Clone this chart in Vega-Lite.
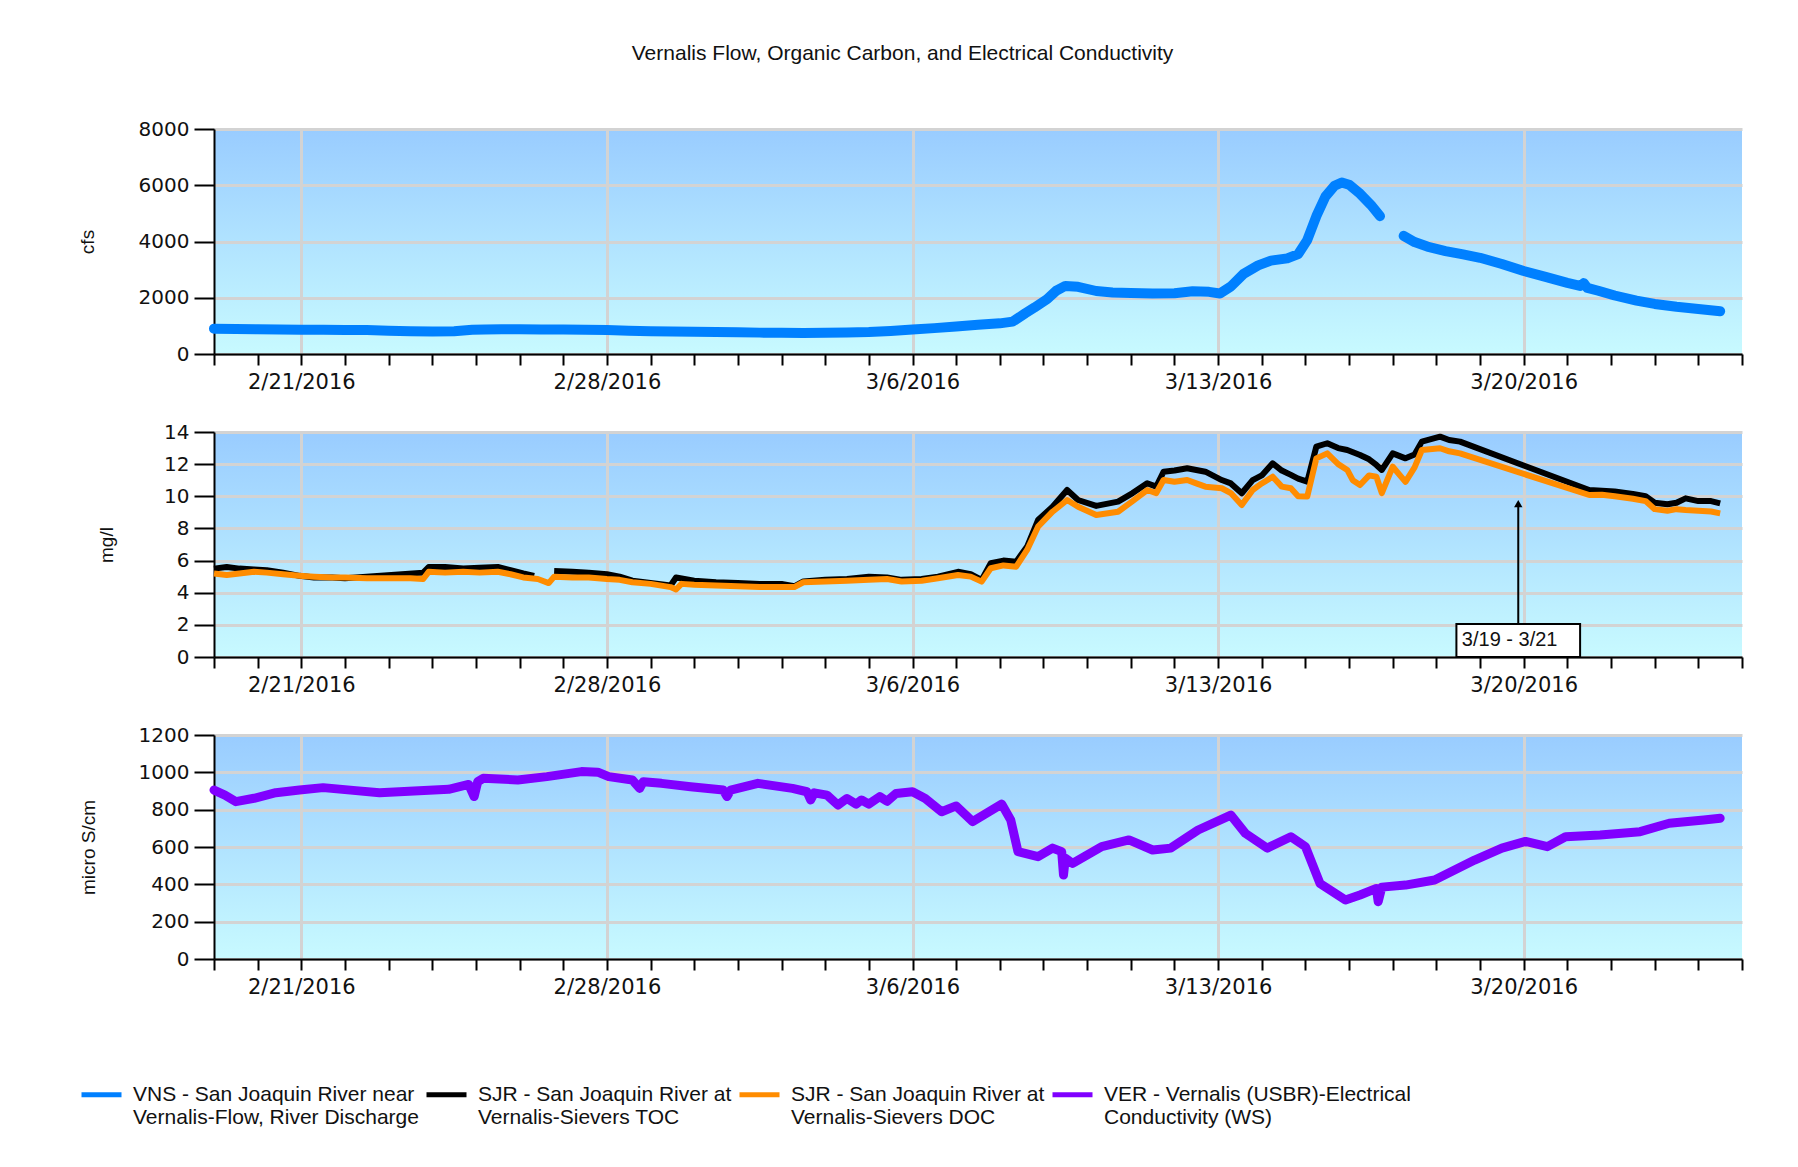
{
  "$schema": "https://vega.github.io/schema/vega-lite/v6.json",
  "background": "white",
  "padding": {"left": 78, "top": 43, "right": 40, "bottom": 20},
  "title": {"text": "Vernalis Flow, Organic Carbon, and Electrical Conductivity", "anchor": "middle", "font": "Liberation Sans", "fontSize": 21, "fontWeight": "normal", "color": "#111111", "offset": 55, "dx": -8},
  "spacing": 30,
  "datasets": {
    "flow": [
      {"t":"2016-02-19T00:00","s":"VNS Flow","v":900},{"t":"2016-02-19T12:00","s":"VNS Flow","v":890},{"t":"2016-02-20T00:00","s":"VNS Flow","v":880},{"t":"2016-02-20T12:00","s":"VNS Flow","v":870},
      {"t":"2016-02-21T00:00","s":"VNS Flow","v":860},{"t":"2016-02-21T12:00","s":"VNS Flow","v":860},{"t":"2016-02-22T00:00","s":"VNS Flow","v":855},{"t":"2016-02-22T12:00","s":"VNS Flow","v":850},
      {"t":"2016-02-23T00:00","s":"VNS Flow","v":830},{"t":"2016-02-23T12:00","s":"VNS Flow","v":810},{"t":"2016-02-24T00:00","s":"VNS Flow","v":800},{"t":"2016-02-24T12:00","s":"VNS Flow","v":810},
      {"t":"2016-02-24T22:00","s":"VNS Flow","v":860},{"t":"2016-02-25T05:00","s":"VNS Flow","v":875},{"t":"2016-02-25T14:00","s":"VNS Flow","v":880},{"t":"2016-02-26T00:00","s":"VNS Flow","v":880},
      {"t":"2016-02-26T12:00","s":"VNS Flow","v":870},{"t":"2016-02-27T00:00","s":"VNS Flow","v":870},{"t":"2016-02-27T12:00","s":"VNS Flow","v":860},{"t":"2016-02-28T00:00","s":"VNS Flow","v":850},
      {"t":"2016-02-28T12:00","s":"VNS Flow","v":830},{"t":"2016-02-29T00:00","s":"VNS Flow","v":810},{"t":"2016-02-29T12:00","s":"VNS Flow","v":800},{"t":"2016-03-01T00:00","s":"VNS Flow","v":790},
      {"t":"2016-03-01T12:00","s":"VNS Flow","v":780},{"t":"2016-03-02T00:00","s":"VNS Flow","v":770},{"t":"2016-03-02T12:00","s":"VNS Flow","v":760},{"t":"2016-03-03T00:00","s":"VNS Flow","v":755},
      {"t":"2016-03-03T12:00","s":"VNS Flow","v":750},{"t":"2016-03-04T00:00","s":"VNS Flow","v":755},{"t":"2016-03-04T12:00","s":"VNS Flow","v":765},{"t":"2016-03-05T00:00","s":"VNS Flow","v":780},
      {"t":"2016-03-05T12:00","s":"VNS Flow","v":820},{"t":"2016-03-06T00:00","s":"VNS Flow","v":870},{"t":"2016-03-06T12:00","s":"VNS Flow","v":920},{"t":"2016-03-07T00:00","s":"VNS Flow","v":980},
      {"t":"2016-03-07T12:00","s":"VNS Flow","v":1040},{"t":"2016-03-08T00:00","s":"VNS Flow","v":1090},{"t":"2016-03-08T07:00","s":"VNS Flow","v":1150},{"t":"2016-03-08T14:00","s":"VNS Flow","v":1450},
      {"t":"2016-03-08T19:00","s":"VNS Flow","v":1650},{"t":"2016-03-09T02:00","s":"VNS Flow","v":1950},{"t":"2016-03-09T07:00","s":"VNS Flow","v":2250},{"t":"2016-03-09T12:00","s":"VNS Flow","v":2420},
      {"t":"2016-03-09T19:00","s":"VNS Flow","v":2390},{"t":"2016-03-10T05:00","s":"VNS Flow","v":2240},{"t":"2016-03-10T14:00","s":"VNS Flow","v":2190},{"t":"2016-03-11T00:00","s":"VNS Flow","v":2170},
      {"t":"2016-03-11T12:00","s":"VNS Flow","v":2150},{"t":"2016-03-12T00:00","s":"VNS Flow","v":2160},{"t":"2016-03-12T10:00","s":"VNS Flow","v":2230},{"t":"2016-03-12T19:00","s":"VNS Flow","v":2210},
      {"t":"2016-03-13T01:00","s":"VNS Flow","v":2150},{"t":"2016-03-13T07:00","s":"VNS Flow","v":2400},{"t":"2016-03-13T14:00","s":"VNS Flow","v":2850},{"t":"2016-03-13T22:00","s":"VNS Flow","v":3150},
      {"t":"2016-03-14T05:00","s":"VNS Flow","v":3320},{"t":"2016-03-14T14:00","s":"VNS Flow","v":3400},{"t":"2016-03-14T20:00","s":"VNS Flow","v":3550},{"t":"2016-03-15T01:00","s":"VNS Flow","v":4050},
      {"t":"2016-03-15T06:00","s":"VNS Flow","v":4900},{"t":"2016-03-15T11:00","s":"VNS Flow","v":5600},{"t":"2016-03-15T16:00","s":"VNS Flow","v":5980},{"t":"2016-03-15T20:00","s":"VNS Flow","v":6100},
      {"t":"2016-03-16T00:00","s":"VNS Flow","v":6020},{"t":"2016-03-16T06:00","s":"VNS Flow","v":5700},{"t":"2016-03-16T12:00","s":"VNS Flow","v":5300},{"t":"2016-03-16T17:00","s":"VNS Flow","v":4900},
      {"t":"2016-03-17T00:00","s":"VNS Flow","v":null},
      {"t":"2016-03-17T06:00","s":"VNS Flow","v":4200},{"t":"2016-03-17T12:00","s":"VNS Flow","v":3980},{"t":"2016-03-17T19:00","s":"VNS Flow","v":3820},{"t":"2016-03-18T05:00","s":"VNS Flow","v":3660},
      {"t":"2016-03-18T14:00","s":"VNS Flow","v":3550},{"t":"2016-03-19T00:00","s":"VNS Flow","v":3420},{"t":"2016-03-19T12:00","s":"VNS Flow","v":3200},{"t":"2016-03-20T00:00","s":"VNS Flow","v":2950},
      {"t":"2016-03-20T12:00","s":"VNS Flow","v":2740},{"t":"2016-03-21T00:00","s":"VNS Flow","v":2530},{"t":"2016-03-21T07:00","s":"VNS Flow","v":2420},{"t":"2016-03-21T09:00","s":"VNS Flow","v":2520},
      {"t":"2016-03-21T11:00","s":"VNS Flow","v":2350},{"t":"2016-03-21T17:00","s":"VNS Flow","v":2250},{"t":"2016-03-22T02:00","s":"VNS Flow","v":2080},{"t":"2016-03-22T14:00","s":"VNS Flow","v":1900},
      {"t":"2016-03-23T00:00","s":"VNS Flow","v":1780},{"t":"2016-03-23T12:00","s":"VNS Flow","v":1680},{"t":"2016-03-24T00:00","s":"VNS Flow","v":1600},{"t":"2016-03-24T12:00","s":"VNS Flow","v":1520}
    ],
    "carbon": [
      {"t":"2016-02-19T00:00","s":"SJR TOC","v":5.5},{"t":"2016-02-19T07:00","s":"SJR TOC","v":5.6},{"t":"2016-02-19T14:00","s":"SJR TOC","v":5.5},{"t":"2016-02-19T22:00","s":"SJR TOC","v":5.45},
      {"t":"2016-02-20T05:00","s":"SJR TOC","v":5.4},{"t":"2016-02-20T14:00","s":"SJR TOC","v":5.25},{"t":"2016-02-20T23:00","s":"SJR TOC","v":5.05},{"t":"2016-02-21T07:00","s":"SJR TOC","v":4.95},
      {"t":"2016-02-21T17:00","s":"SJR TOC","v":4.95},{"t":"2016-02-22T00:00","s":"SJR TOC","v":4.9},{"t":"2016-02-22T06:00","s":"SJR TOC","v":4.95},{"t":"2016-02-23T19:00","s":"SJR TOC","v":5.25},
      {"t":"2016-02-23T22:00","s":"SJR TOC","v":5.6},{"t":"2016-02-24T07:00","s":"SJR TOC","v":5.6},{"t":"2016-02-24T17:00","s":"SJR TOC","v":5.5},{"t":"2016-02-25T02:00","s":"SJR TOC","v":5.55},
      {"t":"2016-02-25T12:00","s":"SJR TOC","v":5.6},{"t":"2016-02-25T19:00","s":"SJR TOC","v":5.4},{"t":"2016-02-26T02:00","s":"SJR TOC","v":5.2},{"t":"2016-02-26T08:00","s":"SJR TOC","v":5.05},
      {"t":"2016-02-26T14:00","s":"SJR TOC","v":null},
      {"t":"2016-02-26T19:00","s":"SJR TOC","v":5.35},{"t":"2016-02-27T05:00","s":"SJR TOC","v":5.3},{"t":"2016-02-27T14:00","s":"SJR TOC","v":5.25},{"t":"2016-02-28T00:00","s":"SJR TOC","v":5.15},
      {"t":"2016-02-28T07:00","s":"SJR TOC","v":5.0},{"t":"2016-02-28T14:00","s":"SJR TOC","v":4.75},{"t":"2016-02-29T00:00","s":"SJR TOC","v":4.6},{"t":"2016-02-29T11:00","s":"SJR TOC","v":4.45},
      {"t":"2016-02-29T14:00","s":"SJR TOC","v":4.95},{"t":"2016-03-01T00:00","s":"SJR TOC","v":4.75},{"t":"2016-03-01T12:00","s":"SJR TOC","v":4.65},{"t":"2016-03-02T00:00","s":"SJR TOC","v":4.6},
      {"t":"2016-03-02T12:00","s":"SJR TOC","v":4.55},{"t":"2016-03-03T00:00","s":"SJR TOC","v":4.55},{"t":"2016-03-03T07:00","s":"SJR TOC","v":4.4},{"t":"2016-03-03T12:00","s":"SJR TOC","v":4.7},
      {"t":"2016-03-04T00:00","s":"SJR TOC","v":4.8},{"t":"2016-03-04T12:00","s":"SJR TOC","v":4.85},{"t":"2016-03-05T00:00","s":"SJR TOC","v":5.0},{"t":"2016-03-05T10:00","s":"SJR TOC","v":4.95},
      {"t":"2016-03-05T18:00","s":"SJR TOC","v":4.8},{"t":"2016-03-06T05:00","s":"SJR TOC","v":4.85},{"t":"2016-03-06T14:00","s":"SJR TOC","v":5.0},{"t":"2016-03-07T01:00","s":"SJR TOC","v":5.3},
      {"t":"2016-03-07T08:00","s":"SJR TOC","v":5.15},{"t":"2016-03-07T14:00","s":"SJR TOC","v":4.8},{"t":"2016-03-07T19:00","s":"SJR TOC","v":5.83},{"t":"2016-03-08T02:00","s":"SJR TOC","v":6.0},
      {"t":"2016-03-08T09:00","s":"SJR TOC","v":5.93},{"t":"2016-03-08T15:00","s":"SJR TOC","v":6.87},{"t":"2016-03-08T21:00","s":"SJR TOC","v":8.52},{"t":"2016-03-09T05:00","s":"SJR TOC","v":9.35},
      {"t":"2016-03-09T13:00","s":"SJR TOC","v":10.39},{"t":"2016-03-09T19:00","s":"SJR TOC","v":9.77},{"t":"2016-03-10T05:00","s":"SJR TOC","v":9.4},{"t":"2016-03-10T17:00","s":"SJR TOC","v":9.67},
      {"t":"2016-03-11T01:00","s":"SJR TOC","v":10.2},{"t":"2016-03-11T09:00","s":"SJR TOC","v":10.81},{"t":"2016-03-11T14:00","s":"SJR TOC","v":10.6},{"t":"2016-03-11T18:00","s":"SJR TOC","v":11.53},
      {"t":"2016-03-12T00:00","s":"SJR TOC","v":11.6},{"t":"2016-03-12T07:00","s":"SJR TOC","v":11.74},{"t":"2016-03-12T17:00","s":"SJR TOC","v":11.53},{"t":"2016-03-13T02:00","s":"SJR TOC","v":11.01},
      {"t":"2016-03-13T07:00","s":"SJR TOC","v":10.8},{"t":"2016-03-13T13:00","s":"SJR TOC","v":10.19},{"t":"2016-03-13T19:00","s":"SJR TOC","v":11.01},{"t":"2016-03-14T00:00","s":"SJR TOC","v":11.3},
      {"t":"2016-03-14T06:00","s":"SJR TOC","v":12.05},{"t":"2016-03-14T11:00","s":"SJR TOC","v":11.6},{"t":"2016-03-14T16:00","s":"SJR TOC","v":11.33},{"t":"2016-03-14T20:00","s":"SJR TOC","v":11.1},
      {"t":"2016-03-15T01:00","s":"SJR TOC","v":10.91},{"t":"2016-03-15T06:00","s":"SJR TOC","v":13.09},{"t":"2016-03-15T12:00","s":"SJR TOC","v":13.3},{"t":"2016-03-15T18:00","s":"SJR TOC","v":13.0},
      {"t":"2016-03-15T23:00","s":"SJR TOC","v":12.88},{"t":"2016-03-16T06:00","s":"SJR TOC","v":12.57},{"t":"2016-03-16T11:00","s":"SJR TOC","v":12.3},{"t":"2016-03-16T15:00","s":"SJR TOC","v":11.95},
      {"t":"2016-03-16T18:00","s":"SJR TOC","v":11.64},{"t":"2016-03-17T00:00","s":"SJR TOC","v":12.67},{"t":"2016-03-17T07:00","s":"SJR TOC","v":12.36},{"t":"2016-03-17T12:00","s":"SJR TOC","v":12.6},
      {"t":"2016-03-17T16:00","s":"SJR TOC","v":13.4},{"t":"2016-03-18T02:00","s":"SJR TOC","v":13.71},{"t":"2016-03-18T07:00","s":"SJR TOC","v":13.5},{"t":"2016-03-18T13:00","s":"SJR TOC","v":13.4},
      {"t":"2016-03-21T12:00","s":"SJR TOC","v":10.39},{"t":"2016-03-21T19:00","s":"SJR TOC","v":10.35},{"t":"2016-03-22T02:00","s":"SJR TOC","v":10.3},{"t":"2016-03-22T12:00","s":"SJR TOC","v":10.15},
      {"t":"2016-03-22T19:00","s":"SJR TOC","v":10.0},{"t":"2016-03-23T00:00","s":"SJR TOC","v":9.6},{"t":"2016-03-23T07:00","s":"SJR TOC","v":9.5},{"t":"2016-03-23T12:00","s":"SJR TOC","v":9.6},
      {"t":"2016-03-23T17:00","s":"SJR TOC","v":9.87},{"t":"2016-03-24T00:00","s":"SJR TOC","v":9.7},{"t":"2016-03-24T07:00","s":"SJR TOC","v":9.7},{"t":"2016-03-24T12:00","s":"SJR TOC","v":9.56},
      {"t":"2016-02-19T00:00","s":"SJR DOC","v":5.2},{"t":"2016-02-19T07:00","s":"SJR DOC","v":5.1},{"t":"2016-02-19T14:00","s":"SJR DOC","v":5.2},{"t":"2016-02-19T22:00","s":"SJR DOC","v":5.3},
      {"t":"2016-02-20T05:00","s":"SJR DOC","v":5.25},{"t":"2016-02-20T14:00","s":"SJR DOC","v":5.15},{"t":"2016-02-20T23:00","s":"SJR DOC","v":5.05},{"t":"2016-02-21T07:00","s":"SJR DOC","v":5.0},
      {"t":"2016-02-21T17:00","s":"SJR DOC","v":4.95},{"t":"2016-02-22T00:00","s":"SJR DOC","v":4.95},{"t":"2016-02-22T12:00","s":"SJR DOC","v":4.9},{"t":"2016-02-23T00:00","s":"SJR DOC","v":4.9},
      {"t":"2016-02-23T12:00","s":"SJR DOC","v":4.9},{"t":"2016-02-23T19:00","s":"SJR DOC","v":4.85},{"t":"2016-02-23T22:00","s":"SJR DOC","v":5.3},{"t":"2016-02-24T07:00","s":"SJR DOC","v":5.25},
      {"t":"2016-02-24T17:00","s":"SJR DOC","v":5.3},{"t":"2016-02-25T02:00","s":"SJR DOC","v":5.25},{"t":"2016-02-25T12:00","s":"SJR DOC","v":5.3},{"t":"2016-02-25T19:00","s":"SJR DOC","v":5.15},
      {"t":"2016-02-26T02:00","s":"SJR DOC","v":4.95},{"t":"2016-02-26T10:00","s":"SJR DOC","v":4.85},{"t":"2016-02-26T16:00","s":"SJR DOC","v":4.6},{"t":"2016-02-26T19:00","s":"SJR DOC","v":5.0},
      {"t":"2016-02-27T05:00","s":"SJR DOC","v":4.95},{"t":"2016-02-27T14:00","s":"SJR DOC","v":4.95},{"t":"2016-02-28T00:00","s":"SJR DOC","v":4.85},{"t":"2016-02-28T07:00","s":"SJR DOC","v":4.8},
      {"t":"2016-02-28T14:00","s":"SJR DOC","v":4.65},{"t":"2016-02-29T00:00","s":"SJR DOC","v":4.55},{"t":"2016-02-29T11:00","s":"SJR DOC","v":4.35},{"t":"2016-02-29T14:00","s":"SJR DOC","v":4.2},
      {"t":"2016-02-29T17:00","s":"SJR DOC","v":4.55},{"t":"2016-03-01T00:00","s":"SJR DOC","v":4.5},{"t":"2016-03-01T12:00","s":"SJR DOC","v":4.45},{"t":"2016-03-02T00:00","s":"SJR DOC","v":4.4},
      {"t":"2016-03-02T12:00","s":"SJR DOC","v":4.35},{"t":"2016-03-03T00:00","s":"SJR DOC","v":4.35},{"t":"2016-03-03T07:00","s":"SJR DOC","v":4.35},{"t":"2016-03-03T12:00","s":"SJR DOC","v":4.65},
      {"t":"2016-03-04T00:00","s":"SJR DOC","v":4.7},{"t":"2016-03-04T12:00","s":"SJR DOC","v":4.75},{"t":"2016-03-05T00:00","s":"SJR DOC","v":4.8},{"t":"2016-03-05T10:00","s":"SJR DOC","v":4.85},
      {"t":"2016-03-05T18:00","s":"SJR DOC","v":4.7},{"t":"2016-03-06T05:00","s":"SJR DOC","v":4.75},{"t":"2016-03-06T14:00","s":"SJR DOC","v":4.9},{"t":"2016-03-07T01:00","s":"SJR DOC","v":5.1},
      {"t":"2016-03-07T08:00","s":"SJR DOC","v":5.0},{"t":"2016-03-07T14:00","s":"SJR DOC","v":4.69},{"t":"2016-03-07T19:00","s":"SJR DOC","v":5.52},{"t":"2016-03-08T02:00","s":"SJR DOC","v":5.7},
      {"t":"2016-03-08T09:00","s":"SJR DOC","v":5.62},{"t":"2016-03-08T15:00","s":"SJR DOC","v":6.66},{"t":"2016-03-08T21:00","s":"SJR DOC","v":8.11},{"t":"2016-03-09T05:00","s":"SJR DOC","v":9.04},
      {"t":"2016-03-09T13:00","s":"SJR DOC","v":9.77},{"t":"2016-03-09T19:00","s":"SJR DOC","v":9.35},{"t":"2016-03-10T05:00","s":"SJR DOC","v":8.84},{"t":"2016-03-10T17:00","s":"SJR DOC","v":9.04},
      {"t":"2016-03-11T01:00","s":"SJR DOC","v":9.7},{"t":"2016-03-11T09:00","s":"SJR DOC","v":10.39},{"t":"2016-03-11T14:00","s":"SJR DOC","v":10.2},{"t":"2016-03-11T18:00","s":"SJR DOC","v":11.01},
      {"t":"2016-03-12T00:00","s":"SJR DOC","v":10.9},{"t":"2016-03-12T07:00","s":"SJR DOC","v":11.01},{"t":"2016-03-12T12:00","s":"SJR DOC","v":10.8},{"t":"2016-03-12T17:00","s":"SJR DOC","v":10.6},
      {"t":"2016-03-13T02:00","s":"SJR DOC","v":10.5},{"t":"2016-03-13T07:00","s":"SJR DOC","v":10.2},{"t":"2016-03-13T13:00","s":"SJR DOC","v":9.46},{"t":"2016-03-13T19:00","s":"SJR DOC","v":10.39},
      {"t":"2016-03-14T00:00","s":"SJR DOC","v":10.8},{"t":"2016-03-14T06:00","s":"SJR DOC","v":11.22},{"t":"2016-03-14T11:00","s":"SJR DOC","v":10.6},{"t":"2016-03-14T16:00","s":"SJR DOC","v":10.5},
      {"t":"2016-03-14T20:00","s":"SJR DOC","v":10.0},{"t":"2016-03-15T01:00","s":"SJR DOC","v":9.98},{"t":"2016-03-15T06:00","s":"SJR DOC","v":12.36},{"t":"2016-03-15T12:00","s":"SJR DOC","v":12.67},
      {"t":"2016-03-15T18:00","s":"SJR DOC","v":12.0},{"t":"2016-03-15T23:00","s":"SJR DOC","v":11.64},{"t":"2016-03-16T02:00","s":"SJR DOC","v":11.0},{"t":"2016-03-16T06:00","s":"SJR DOC","v":10.7},
      {"t":"2016-03-16T11:00","s":"SJR DOC","v":11.3},{"t":"2016-03-16T15:00","s":"SJR DOC","v":11.22},{"t":"2016-03-16T18:00","s":"SJR DOC","v":10.2},{"t":"2016-03-17T00:00","s":"SJR DOC","v":11.84},
      {"t":"2016-03-17T07:00","s":"SJR DOC","v":10.9},{"t":"2016-03-17T12:00","s":"SJR DOC","v":11.8},{"t":"2016-03-17T16:00","s":"SJR DOC","v":12.88},{"t":"2016-03-18T02:00","s":"SJR DOC","v":12.99},
      {"t":"2016-03-18T07:00","s":"SJR DOC","v":12.8},{"t":"2016-03-18T13:00","s":"SJR DOC","v":12.67},{"t":"2016-03-21T12:00","s":"SJR DOC","v":10.08},{"t":"2016-03-21T19:00","s":"SJR DOC","v":10.1},
      {"t":"2016-03-22T02:00","s":"SJR DOC","v":10.0},{"t":"2016-03-22T12:00","s":"SJR DOC","v":9.85},{"t":"2016-03-22T19:00","s":"SJR DOC","v":9.7},{"t":"2016-03-23T00:00","s":"SJR DOC","v":9.2},
      {"t":"2016-03-23T07:00","s":"SJR DOC","v":9.1},{"t":"2016-03-23T12:00","s":"SJR DOC","v":9.2},{"t":"2016-03-23T17:00","s":"SJR DOC","v":9.15},{"t":"2016-03-24T00:00","s":"SJR DOC","v":9.1},
      {"t":"2016-03-24T07:00","s":"SJR DOC","v":9.05},{"t":"2016-03-24T12:00","s":"SJR DOC","v":8.94}
    ],
    "ec": [
      {"t":"2016-02-19T00:00","s":"VER EC","v":905},{"t":"2016-02-19T06:00","s":"VER EC","v":878},{"t":"2016-02-19T12:00","s":"VER EC","v":843},{"t":"2016-02-19T22:00","s":"VER EC","v":861},
      {"t":"2016-02-20T10:00","s":"VER EC","v":891},{"t":"2016-02-20T23:00","s":"VER EC","v":905},{"t":"2016-02-21T12:00","s":"VER EC","v":918},{"t":"2016-02-22T06:00","s":"VER EC","v":902},
      {"t":"2016-02-22T19:00","s":"VER EC","v":891},{"t":"2016-02-23T14:00","s":"VER EC","v":900},{"t":"2016-02-24T09:00","s":"VER EC","v":909},{"t":"2016-02-24T20:00","s":"VER EC","v":935},
      {"t":"2016-02-24T23:00","s":"VER EC","v":870},{"t":"2016-02-25T01:00","s":"VER EC","v":950},{"t":"2016-02-25T04:00","s":"VER EC","v":968},{"t":"2016-02-25T23:00","s":"VER EC","v":959},
      {"t":"2016-02-26T15:00","s":"VER EC","v":977},{"t":"2016-02-27T10:00","s":"VER EC","v":1004},{"t":"2016-02-27T19:00","s":"VER EC","v":1001},{"t":"2016-02-28T01:00","s":"VER EC","v":977},
      {"t":"2016-02-28T14:00","s":"VER EC","v":959},{"t":"2016-02-28T18:00","s":"VER EC","v":914},{"t":"2016-02-28T20:00","s":"VER EC","v":950},{"t":"2016-02-29T06:00","s":"VER EC","v":941},
      {"t":"2016-02-29T22:00","s":"VER EC","v":923},{"t":"2016-03-01T16:00","s":"VER EC","v":905},{"t":"2016-03-01T18:00","s":"VER EC","v":870},{"t":"2016-03-01T20:00","s":"VER EC","v":905},
      {"t":"2016-03-02T11:00","s":"VER EC","v":941},{"t":"2016-03-03T06:00","s":"VER EC","v":914},{"t":"2016-03-03T14:00","s":"VER EC","v":896},{"t":"2016-03-03T16:00","s":"VER EC","v":852},
      {"t":"2016-03-03T18:00","s":"VER EC","v":890},{"t":"2016-03-04T01:00","s":"VER EC","v":878},{"t":"2016-03-04T07:00","s":"VER EC","v":825},{"t":"2016-03-04T12:00","s":"VER EC","v":860},
      {"t":"2016-03-04T17:00","s":"VER EC","v":830},{"t":"2016-03-04T20:00","s":"VER EC","v":852},{"t":"2016-03-05T00:00","s":"VER EC","v":830},{"t":"2016-03-05T06:00","s":"VER EC","v":870},
      {"t":"2016-03-05T10:00","s":"VER EC","v":845},{"t":"2016-03-05T15:00","s":"VER EC","v":887},{"t":"2016-03-06T00:00","s":"VER EC","v":896},{"t":"2016-03-06T07:00","s":"VER EC","v":860},
      {"t":"2016-03-06T16:00","s":"VER EC","v":789},{"t":"2016-03-07T00:00","s":"VER EC","v":820},{"t":"2016-03-07T09:00","s":"VER EC","v":736},{"t":"2016-03-08T01:00","s":"VER EC","v":830},
      {"t":"2016-03-08T06:00","s":"VER EC","v":745},{"t":"2016-03-08T10:00","s":"VER EC","v":575},{"t":"2016-03-08T21:00","s":"VER EC","v":548},{"t":"2016-03-09T05:00","s":"VER EC","v":594},
      {"t":"2016-03-09T10:00","s":"VER EC","v":575},{"t":"2016-03-09T11:00","s":"VER EC","v":450},{"t":"2016-03-09T12:00","s":"VER EC","v":540},{"t":"2016-03-09T16:00","s":"VER EC","v":512},
      {"t":"2016-03-10T08:00","s":"VER EC","v":602},{"t":"2016-03-10T23:00","s":"VER EC","v":638},{"t":"2016-03-11T12:00","s":"VER EC","v":584},{"t":"2016-03-11T22:00","s":"VER EC","v":594},
      {"t":"2016-03-12T13:00","s":"VER EC","v":691},{"t":"2016-03-13T07:00","s":"VER EC","v":771},{"t":"2016-03-13T15:00","s":"VER EC","v":673},{"t":"2016-03-14T03:00","s":"VER EC","v":594},
      {"t":"2016-03-14T16:00","s":"VER EC","v":655},{"t":"2016-03-15T00:00","s":"VER EC","v":602},{"t":"2016-03-15T08:00","s":"VER EC","v":405},{"t":"2016-03-15T22:00","s":"VER EC","v":316},
      {"t":"2016-03-16T06:00","s":"VER EC","v":343},{"t":"2016-03-16T15:00","s":"VER EC","v":378},{"t":"2016-03-16T16:00","s":"VER EC","v":307},{"t":"2016-03-16T18:00","s":"VER EC","v":385},
      {"t":"2016-03-17T07:00","s":"VER EC","v":396},{"t":"2016-03-17T23:00","s":"VER EC","v":423},{"t":"2016-03-18T21:00","s":"VER EC","v":530},{"t":"2016-03-19T12:00","s":"VER EC","v":594},
      {"t":"2016-03-20T01:00","s":"VER EC","v":630},{"t":"2016-03-20T13:00","s":"VER EC","v":602},{"t":"2016-03-20T23:00","s":"VER EC","v":655},{"t":"2016-03-21T18:00","s":"VER EC","v":664},
      {"t":"2016-03-22T16:00","s":"VER EC","v":682},{"t":"2016-03-23T08:00","s":"VER EC","v":727},{"t":"2016-03-24T03:00","s":"VER EC","v":745},{"t":"2016-03-24T12:00","s":"VER EC","v":754}
    ]
  },
  "vconcat": [
    {
      "width": 1528, "height": 225,
      "data": {"name": "flow"},
      "mark": {"type": "line", "strokeWidth": 10, "strokeCap": "round", "strokeJoin": "round", "invalid": "break-paths-show-domains"},
      "encoding": {
        "x": {"field": "t", "type": "temporal", "scale": {"domain": [{"year": 2016, "month": 2, "date": 19}, {"year": 2016, "month": 3, "date": 25}]},
              "axis": {"title": null, "tickCount": {"interval": "day", "step": 1}, "labelOverlap": false, "labelFlush": false,
                       "labelExpr": "day(datum.value) == 0 ? timeFormat(datum.value, '%-m/%-d/%Y') : ''",
                       "gridOpacity": {"condition": {"test": "day(datum.value) == 0", "value": 1}, "value": 0}}},
        "y": {"field": "v", "type": "quantitative", "scale": {"domain": [0, 8000]}, "axis": {"title": "cfs", "values": [0, 2000, 4000, 6000, 8000], "format": "d", "labelOverlap": false, "titlePadding": 41}},
        "color": {"field": "s", "type": "nominal", "scale": {"domain": ["VNS Flow", "SJR TOC", "SJR DOC", "VER EC"], "range": ["#0080FF", "#000000", "#FF8C00", "#8000FF"]},
                  "legend": {"orient": "none", "direction": "horizontal", "legendX": -135, "legendY": 943, "title": null,
                             "labelExpr": "datum.label == 'VNS Flow' ? ['VNS - San Joaquin River near', 'Vernalis-Flow, River Discharge'] : datum.label == 'SJR TOC' ? ['SJR - San Joaquin River at', 'Vernalis-Sievers TOC'] : datum.label == 'SJR DOC' ? ['SJR - San Joaquin River at', 'Vernalis-Sievers DOC'] : ['VER - Vernalis (USBR)-Electrical', 'Conductivity (WS)']"}}
      }
    },
    {
      "width": 1528, "height": 225,
      "layer": [
        {
          "data": {"name": "carbon"},
          "mark": {"type": "line", "strokeWidth": 6, "strokeJoin": "round", "invalid": "break-paths-show-domains"},
          "encoding": {
            "x": {"field": "t", "type": "temporal", "scale": {"domain": [{"year": 2016, "month": 2, "date": 19}, {"year": 2016, "month": 3, "date": 25}]},
                  "axis": {"title": null, "tickCount": {"interval": "day", "step": 1}, "labelOverlap": false, "labelFlush": false,
                           "labelExpr": "day(datum.value) == 0 ? timeFormat(datum.value, '%-m/%-d/%Y') : ''",
                           "gridOpacity": {"condition": {"test": "day(datum.value) == 0", "value": 1}, "value": 0}}},
            "y": {"field": "v", "type": "quantitative", "scale": {"domain": [0, 14]}, "axis": {"title": "mg/l", "values": [0, 2, 4, 6, 8, 10, 12, 14], "format": "d", "labelOverlap": false, "titlePadding": 47}},
            "color": {"field": "s", "type": "nominal", "scale": {"domain": ["VNS Flow", "SJR TOC", "SJR DOC", "VER EC"], "range": ["#0080FF", "#000000", "#FF8C00", "#8000FF"]}}
          }
        },
        {
          "data": {"values": [{"label": "3/19 - 3/21"}]},
          "mark": {"type": "rect", "fill": "white", "stroke": "black", "strokeWidth": 2},
          "encoding": {
            "x": {"datum": {"year": 2016, "month": 3, "date": 18, "hours": 11}, "type": "temporal",
                  "axis": {"title": null, "tickCount": {"interval": "day", "step": 1}, "labelOverlap": false, "labelFlush": false,
                           "labelExpr": "day(datum.value) == 0 ? timeFormat(datum.value, '%-m/%-d/%Y') : ''",
                           "gridOpacity": {"condition": {"test": "day(datum.value) == 0", "value": 1}, "value": 0}}},
            "x2": {"datum": {"year": 2016, "month": 3, "date": 21, "hours": 7}},
            "y": {"datum": 0, "type": "quantitative", "axis": {"title": "mg/l", "values": [0, 2, 4, 6, 8, 10, 12, 14], "format": "d", "labelOverlap": false, "titlePadding": 47}},
            "y2": {"datum": 2.05}
          }
        },
        {
          "data": {"values": [{"label": "3/19 - 3/21"}]},
          "mark": {"type": "text", "align": "left", "baseline": "middle", "font": "Liberation Sans", "fontSize": 20, "color": "#111111"},
          "encoding": {
            "x": {"datum": {"year": 2016, "month": 3, "date": 18, "hours": 14}, "type": "temporal",
                  "axis": {"title": null, "tickCount": {"interval": "day", "step": 1}, "labelOverlap": false, "labelFlush": false,
                           "labelExpr": "day(datum.value) == 0 ? timeFormat(datum.value, '%-m/%-d/%Y') : ''",
                           "gridOpacity": {"condition": {"test": "day(datum.value) == 0", "value": 1}, "value": 0}}},
            "y": {"datum": 1.03, "type": "quantitative", "axis": {"title": "mg/l", "values": [0, 2, 4, 6, 8, 10, 12, 14], "format": "d", "labelOverlap": false, "titlePadding": 47}},
            "text": {"field": "label"}
          }
        },
        {
          "data": {"values": [{"label": "3/19 - 3/21"}]},
          "mark": {"type": "rule", "color": "black", "strokeWidth": 2},
          "encoding": {
            "x": {"datum": {"year": 2016, "month": 3, "date": 19, "hours": 21}, "type": "temporal",
                  "axis": {"title": null, "tickCount": {"interval": "day", "step": 1}, "labelOverlap": false, "labelFlush": false,
                           "labelExpr": "day(datum.value) == 0 ? timeFormat(datum.value, '%-m/%-d/%Y') : ''",
                           "gridOpacity": {"condition": {"test": "day(datum.value) == 0", "value": 1}, "value": 0}}},
            "y": {"datum": 2.05, "type": "quantitative", "axis": {"title": "mg/l", "values": [0, 2, 4, 6, 8, 10, 12, 14], "format": "d", "labelOverlap": false, "titlePadding": 47}},
            "y2": {"datum": 9.4}
          }
        },
        {
          "data": {"values": [{"label": "3/19 - 3/21"}]},
          "mark": {"type": "point", "shape": "triangle-up", "filled": true, "color": "black", "size": 70, "opacity": 1},
          "encoding": {
            "x": {"datum": {"year": 2016, "month": 3, "date": 19, "hours": 21}, "type": "temporal",
                  "axis": {"title": null, "tickCount": {"interval": "day", "step": 1}, "labelOverlap": false, "labelFlush": false,
                           "labelExpr": "day(datum.value) == 0 ? timeFormat(datum.value, '%-m/%-d/%Y') : ''",
                           "gridOpacity": {"condition": {"test": "day(datum.value) == 0", "value": 1}, "value": 0}}},
            "y": {"datum": 9.55, "type": "quantitative", "axis": {"title": "mg/l", "values": [0, 2, 4, 6, 8, 10, 12, 14], "format": "d", "labelOverlap": false, "titlePadding": 47}}
          }
        }
      ]
    },
    {
      "width": 1528, "height": 224,
      "data": {"name": "ec"},
      "mark": {"type": "line", "strokeWidth": 9, "strokeCap": "round", "strokeJoin": "round"},
      "encoding": {
        "x": {"field": "t", "type": "temporal", "scale": {"domain": [{"year": 2016, "month": 2, "date": 19}, {"year": 2016, "month": 3, "date": 25}]},
              "axis": {"title": null, "tickCount": {"interval": "day", "step": 1}, "labelOverlap": false, "labelFlush": false,
                       "labelExpr": "day(datum.value) == 0 ? timeFormat(datum.value, '%-m/%-d/%Y') : ''",
                       "gridOpacity": {"condition": {"test": "day(datum.value) == 0", "value": 1}, "value": 0}}},
        "y": {"field": "v", "type": "quantitative", "scale": {"domain": [0, 1200]}, "axis": {"title": "micro S/cm", "values": [0, 200, 400, 600, 800, 1000, 1200], "format": "d", "labelOverlap": false, "titlePadding": 40}},
        "color": {"field": "s", "type": "nominal", "scale": {"domain": ["VNS Flow", "SJR TOC", "SJR DOC", "VER EC"], "range": ["#0080FF", "#000000", "#FF8C00", "#8000FF"]}}
      }
    }
  ],
  "resolve": {"scale": {"color": "shared"}},
  "config": {
    "view": {"stroke": null, "fill": {"gradient": "linear", "x1": 0, "y1": 0, "x2": 0, "y2": 1, "stops": [{"offset": 0, "color": "#99CCFF"}, {"offset": 1, "color": "#C8FAFF"}]}},
    "axis": {"domainColor": "#000000", "domainWidth": 2, "tickColor": "#000000", "tickWidth": 2, "gridColor": "#D3D3D3", "gridWidth": 3,
             "labelColor": "#111111", "titleColor": "#111111", "titleFont": "Liberation Sans", "titleFontSize": 19, "titleFontWeight": "normal"},
    "axisX": {"tickSize": 11, "labelFont": "DejaVu Sans", "labelFontSize": 21, "labelPadding": 6},
    "axisY": {"tickSize": 20, "labelFont": "DejaVu Sans", "labelFontSize": 20, "labelPadding": 5},
    "legend": {"symbolType": "stroke", "symbolSize": 1600, "symbolStrokeWidth": 5,
               "labelFont": "Liberation Sans", "labelFontSize": 21, "labelColor": "#111111", "labelOffset": 9, "labelLimit": 500, "columnPadding": -3}
  }
}
